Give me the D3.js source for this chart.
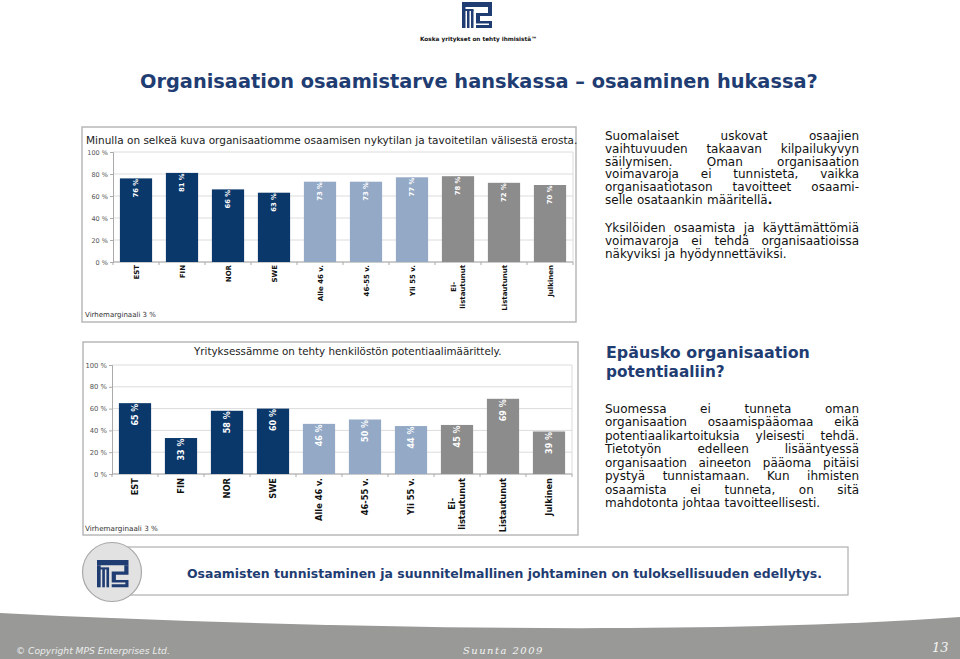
<!DOCTYPE html>
<html><head><meta charset="utf-8">
<script src="https://cdn.jsdelivr.net/npm/d3@7"></script>
<style>body{margin:0;background:#fff}svg{display:block}</style>
</head><body>
<svg id="s" width="960" height="659"></svg>
<script>
// ---------- data ----------
const categories = ["EST","FIN","NOR","SWE","Alle 46 v.","46-55 v.","Yli 55 v.","Ei-\nlistautunut","Listautunut","Julkinen"];
const groups = ["maa","maa","maa","maa","ikä","ikä","ikä","omistus","omistus","omistus"];
const values1 = [76,81,66,63,73,73,77,78,72,70];
const values2 = [65,33,58,60,46,50,44,45,69,39];
const yTicks = [0,20,40,60,80,100];
const title1 = "Minulla on selkeä kuva organisaatiomme osaamisen nykytilan ja tavoitetilan välisestä erosta.";
const title2 = "Yrityksessämme on tehty henkilöstön potentiaalimäärittely.";
const marginNote = "Virhemarginaali 3 %";

const svg = d3.select("#s");
const FONT = "'DejaVu Sans', Verdana, sans-serif";
const NAVY = "#1f3d72";
const color = d3.scaleOrdinal().domain(["maa","ikä","omistus"]).range(["#0b386b","#93a9c6","#8c8c8c"]);

function fit(sel, w){ const l = sel.node().getComputedTextLength(); const fs = parseFloat(sel.attr("font-size")); sel.attr("font-size", fs*w/l); return sel; }

// ---------- footer ----------
svg.append("rect").attr("x",0).attr("y",600).attr("width",960).attr("height",59).attr("fill","#999a97");
svg.append("path").attr("d","M0,0 L960,0 L960,617 C 700,636 300,628 0,613 Z").attr("fill","#fff");
fit(svg.append("text").attr("x",16).attr("y",654).attr("font-family",FONT).attr("font-style","italic").attr("font-size",10).attr("fill","#ececec").text("© Copyright MPS Enterprises Ltd."),154);
fit(svg.append("text").attr("x",463).attr("y",654).attr("font-family","'DejaVu Serif', serif").attr("font-style","italic").attr("letter-spacing",1.5).attr("font-size",12).attr("fill","#f4f4f4").text("Suunta 2009"),78);
svg.append("text").attr("x",932).attr("y",652).attr("font-family","'DejaVu Serif', serif").attr("font-style","italic").attr("font-size",13).attr("fill","#f4f4f4").text("13");

// ---------- logo ----------
function logo(g, x, y, k, col){
  const L = g.append("g").attr("transform",`translate(${x},${y}) scale(${k})`).attr("fill",col);
  L.append("rect").attr("x",0).attr("y",0).attr("width",30).attr("height",5);
  L.append("rect").attr("x",0).attr("y",5).attr("width",3.5).attr("height",21);
  L.append("rect").attr("x",5).attr("y",8).attr("width",2.5).attr("height",18);
  L.append("rect").attr("x",9).attr("y",8).attr("width",2.5).attr("height",18);
  L.append("rect").attr("x",0).attr("y",7).attr("width",11.5).attr("height",2);
  L.append("path").attr("d","M26,5 L30,5 L30,14 L18,14 L18,19 L30,19 L30,26 L14,26 L14,23 L27,23 L27,21.5 L14,21.5 L14,11 L26,11 Z");
}
logo(svg, 462, 2, 1, NAVY);
fit(svg.append("text").attr("x",420).attr("y",41).attr("font-family",FONT).attr("font-weight","bold").attr("font-size",7).attr("fill","#111").text("Koska yritykset on tehty ihmisistä™"),117);

// ---------- main title ----------
fit(svg.append("text").attr("x",140).attr("y",88).attr("font-family",FONT).attr("font-weight","bold").attr("font-size",20).attr("fill",NAVY).text("Organisaation osaamistarve hanskassa – osaaminen hukassa?"),678);

// ---------- charts ----------
function chart(cfg){
  const g = svg.append("g");
  g.append("rect").attr("x",cfg.frame[0]).attr("y",cfg.frame[1]).attr("width",cfg.frame[2]).attr("height",cfg.frame[3])
    .attr("fill","#fff").attr("stroke","#b8b8b8").attr("stroke-width",1.5);
  const x = d3.scaleBand().domain(categories).range(cfg.xr).paddingInner(0.3).paddingOuter(0.15);
  const y = d3.scaleLinear().domain([0,100]).range(cfg.yr);
  // grid
  g.append("g").selectAll("line").data(yTicks).join("line")
    .attr("x1",cfg.xr[0]).attr("x2",cfg.xr[1]).attr("y1",d=>y(d)).attr("y2",d=>y(d))
    .attr("stroke","#dcdcdc").attr("stroke-width",1);
  g.append("line").attr("x1",cfg.xr[1]).attr("x2",cfg.xr[1]).attr("y1",cfg.yr[1]).attr("y2",cfg.yr[0]).attr("stroke","#dcdcdc");
  // y axis
  const ya = g.append("g").attr("transform",`translate(${cfg.xr[0]},0)`)
    .call(d3.axisLeft(y).tickValues(yTicks).tickFormat(d=>d+" %").tickSize(3).tickPadding(2));
  ya.select(".domain").attr("stroke","#aaa");
  ya.selectAll(".tick line").attr("stroke","#aaa");
  ya.selectAll("text").attr("font-family",FONT).attr("font-size",cfg.tickFs).attr("fill","#555");
  // x axis
  const xa = g.append("g").attr("transform",`translate(0,${cfg.yr[0]})`);
  xa.append("line").attr("x1",cfg.xr[0]).attr("x2",cfg.xr[1]).attr("stroke","#aaa");
  xa.selectAll("line.t").data(d3.range(categories.length+1)).join("line").attr("class","t")
    .attr("x1",i=>cfg.xr[0]+i*x.step()).attr("x2",i=>cfg.xr[0]+i*x.step()).attr("y1",0).attr("y2",3).attr("stroke","#aaa");
  // bars
  g.append("g").selectAll("rect").data(cfg.values).join("rect")
    .attr("x",(d,i)=>x(categories[i])).attr("width",x.bandwidth())
    .attr("y",d=>y(d)).attr("height",d=>y(0)-y(d)).attr("fill",(d,i)=>color(groups[i]));
  // value labels
  const capV = cfg.valFs*0.73;
  g.append("g").selectAll("text").data(cfg.values).join("text")
    .attr("transform",(d,i)=>`translate(${x(categories[i])+x.bandwidth()/2+capV/2},${y(d)+0.5}) rotate(-90)`)
    .attr("text-anchor","end").attr("font-family",FONT).attr("font-weight","bold").attr("font-size",cfg.valFs)
    .attr("fill","#fff").text(d=>d+" %");
  // category labels
  const capC = cfg.catFs*0.73;
  categories.forEach((c,i)=>{
    const lines = c.split("\n");
    const cx = x(c)+x.bandwidth()/2;
    const tmp = lines.map(t=>g.append("text").attr("font-family",FONT).attr("font-weight","bold").attr("font-size",cfg.catFs).text(t));
    const maxW = d3.max(tmp, t=>t.node().getComputedTextLength());
    tmp.forEach((t,j)=>{
      const lx = cx + capC/2 + (j-(lines.length-1)/2)*cfg.catFs*1.3;
      t.attr("text-anchor","middle").attr("fill","#111")
       .attr("transform",`translate(${lx},${cfg.yr[0]+cfg.catGap+maxW/2}) rotate(-90)`);
    });
  });
  // titles
  fit(g.append("text").attr("x",cfg.title[0]).attr("y",cfg.title[1]).attr("font-family",FONT).attr("font-size",10).attr("fill","#222").text(cfg.titleText),cfg.title[2]);
  fit(g.append("text").attr("x",cfg.note[0]).attr("y",cfg.note[1]).attr("font-family",FONT).attr("font-size",7).attr("fill","#333").text(marginNote),cfg.note[2]);
}

chart({frame:[82,127,494,195], xr:[113,573], yr:[262,152], values:values1, tickFs:6.5, valFs:6.8, catFs:7, catGap:3,
       title:[86,144,492], titleText:title1, note:[85,317,71]});
chart({frame:[83,342,495,193], xr:[112,572], yr:[474,365], values:values2, tickFs:6.8, valFs:8, catFs:8.3, catGap:4,
       title:[194,355,308], titleText:title2, note:[85,531,73]});

// ---------- right-side text ----------
const PFS = 12;
function para(lines, x0, w, y0, lh){
  const g = svg.append("g").attr("font-family",FONT).attr("fill","#111");
  lines.forEach((ln,i)=>{
    const words = ln.split(" ");
    const ts = words.map(wd=>{
      const t = g.append("text").attr("font-size",PFS).attr("y",y0+i*lh);
      if (wd.endsWith("ä.") && i===lines.length-1 && wd.startsWith("määr")) { t.append("tspan").text(wd.slice(0,-1)); t.append("tspan").attr("font-weight","bold").text("."); }
      else t.text(wd);
      return t;
    });
    const ws = ts.map(t=>t.node().getComputedTextLength());
    const sp = PFS*0.35;
    const gap = (i===lines.length-1 || words.length<2) ? sp : (w - d3.sum(ws))/(words.length-1);
    let cx = x0;
    ts.forEach((t,j)=>{ t.attr("x",cx); cx += ws[j]+gap; });
  });
}
para(["Suomalaiset uskovat osaajien","vaihtuvuuden takaavan kilpailukyvyn","säilymisen. Oman organisaation","voimavaroja ei tunnisteta, vaikka","organisaatiotason tavoitteet osaami-","selle osataankin määritellä."], 605, 254, 140, 12.8);
para(["Yksilöiden osaamista ja käyttämättömiä","voimavaroja ei tehdä organisaatioissa","näkyviksi ja hyödynnettäviksi."], 605, 254, 232, 12.8);
fit(svg.append("text").attr("x",606).attr("y",358).attr("font-family",FONT).attr("font-weight","bold").attr("font-size",15).attr("fill",NAVY).text("Epäusko organisaation"),204);
svg.append("text").attr("x",606).attr("y",377).attr("font-family",FONT).attr("font-weight","bold").attr("font-size",15.3).attr("fill",NAVY).text("potentiaaliin?");
para(["Suomessa ei tunneta oman","organisaation osaamispääomaa eikä","potentiaalikartoituksia yleisesti tehdä.","Tietotyön edelleen lisääntyessä","organisaation aineeton pääoma pitäisi","pystyä tunnistamaan. Kun ihmisten","osaamista ei tunneta, on sitä","mahdotonta johtaa tavoitteellisesti."], 605, 254, 413, 13.45);

// ---------- banner ----------
svg.append("rect").attr("x",118).attr("y",547).attr("width",730).attr("height",48).attr("fill","#fff").attr("stroke","#b0b0b0").attr("stroke-width",1.2);
svg.append("circle").attr("cx",112).attr("cy",572).attr("r",29.5).attr("fill","#e2e2e2").attr("stroke","#a8a8a8").attr("stroke-width",1.2);
logo(svg, 97, 560, 1.05, NAVY);
svg.append("text").attr("x",187).attr("y",578).attr("font-family","'DejaVu Sans Condensed','DejaVu Sans',sans-serif").attr("font-weight","bold").attr("font-size",13)
  .attr("fill",NAVY).attr("textLength",635).attr("lengthAdjust","spacingAndGlyphs")
  .text("Osaamisten tunnistaminen ja suunnitelmallinen johtaminen on tuloksellisuuden edellytys.");
</script>
</body></html>
